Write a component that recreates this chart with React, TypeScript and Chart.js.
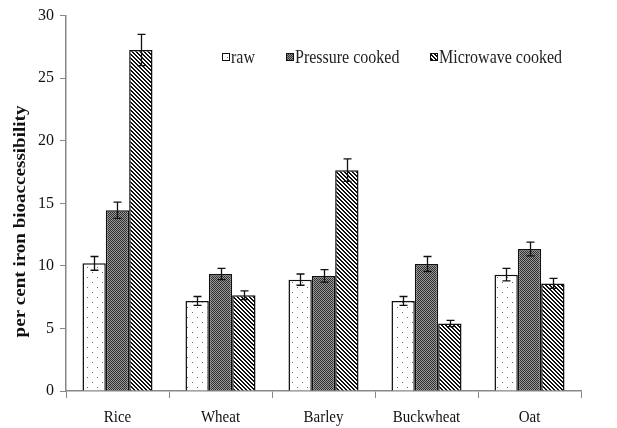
import React, { useEffect, useRef } from "react";
import { Chart, registerables } from "chart.js";

Chart.register(...registerables);

const categories = ["Rice", "Wheat", "Barley", "Buckwheat", "Oat"];
const seriesNames = ["raw", "Pressure cooked", "Microwave cooked"];
const rawValues = [10.2, 7.2, 8.9, 7.2, 9.3];
const pressureValues = [14.45, 9.35, 9.2, 10.15, 11.35];
const microwaveValues = [27.25, 7.65, 17.65, 5.4, 8.6];
const rawErrors = [0.55, 0.35, 0.45, 0.35, 0.5];
const pressureErrors = [0.65, 0.45, 0.5, 0.6, 0.55];
const microwaveErrors = [1.25, 0.35, 0.9, 0.25, 0.4];
const yTicks = [0, 5, 10, 15, 20, 25, 30];
const yTitle = "per cent iron bioaccessibility";

const SERIF = "'Liberation Serif', 'Times New Roman', serif";

function makePattern(kind: string): CanvasPattern | string {
  const c = document.createElement("canvas");
  const g = c.getContext("2d");
  if (!g) return "#fff";
  if (kind === "raw") {
    c.width = 10;
    c.height = 10;
    g.fillStyle = "#fff";
    g.fillRect(0, 0, 10, 10);
    g.fillStyle = "#666";
    g.fillRect(2, 2, 1, 1);
    g.fillRect(7, 7, 1, 1);
  } else if (kind === "pressure") {
    c.width = 2;
    c.height = 2;
    g.fillStyle = "#9a9a9a";
    g.fillRect(0, 0, 2, 2);
    g.fillStyle = "#2e2e2e";
    g.fillRect(0, 0, 1, 1);
    g.fillRect(1, 1, 1, 1);
  } else {
    c.width = 4;
    c.height = 4;
    g.fillStyle = "#fff";
    g.fillRect(0, 0, 4, 4);
    g.fillStyle = "#111";
    for (let i = 0; i < 4; i++) {
      g.fillRect(i, i, 2, 1);
      if (i === 3) g.fillRect(0, 3, 1, 1);
    }
  }
  const p = g.createPattern(c, "repeat");
  return p || "#fff";
}

export default function App() {
  const ref = useRef<HTMLCanvasElement | null>(null);

  useEffect(() => {
    if (!ref.current) return;
    const fills = [makePattern("raw"), makePattern("pressure"), makePattern("micro")];
    const values = [rawValues, pressureValues, microwaveValues];
    const errors = [rawErrors, pressureErrors, microwaveErrors];

    const errorBars = {
      id: "errorBars",
      afterDatasetsDraw(chart: any) {
        const ctx = chart.ctx;
        const y = chart.scales.y;
        ctx.save();
        ctx.strokeStyle = "#111";
        ctx.lineWidth = 1.3;
        chart.data.datasets.forEach((ds: any, di: number) => {
          const meta = chart.getDatasetMeta(di);
          meta.data.forEach((bar: any, i: number) => {
            const v = values[di][i];
            const e = errors[di][i];
            const x = Math.round(bar.x) + 0.5;
            const yt = y.getPixelForValue(v + e);
            const yb = y.getPixelForValue(v - e);
            ctx.beginPath();
            ctx.moveTo(x, yt);
            ctx.lineTo(x, yb);
            ctx.moveTo(x - 4, yt);
            ctx.lineTo(x + 4, yt);
            ctx.moveTo(x - 4, yb);
            ctx.lineTo(x + 4, yb);
            ctx.stroke();
          });
        });
        ctx.restore();
      },
    };

    const textPlugin = {
      id: "customText",
      afterDraw(chart: any) {
        const ctx = chart.ctx;
        const xs = chart.scales.x;
        ctx.save();
        // legend
        const items = [
          { x: 222, label: seriesNames[0] },
          { x: 286, label: seriesNames[1] },
          { x: 430, label: seriesNames[2] },
        ];
        ctx.font = "16px " + SERIF;
        ctx.textBaseline = "alphabetic";
        items.forEach((it, i) => {
          ctx.fillStyle = fills[i] as any;
          ctx.fillRect(it.x, 53, 8, 8);
          ctx.strokeStyle = "#111";
          ctx.lineWidth = 1;
          ctx.strokeRect(it.x + 0.5, 53.5, 7, 7);
          ctx.save();
          ctx.translate(it.x + 9, 63);
          ctx.scale(1, 1.2);
          ctx.fillStyle = "#222";
          ctx.textAlign = "left";
          ctx.fillText(it.label, 0, 0);
          ctx.restore();
        });
        // x labels
        ctx.font = "15px " + SERIF;
        ctx.fillStyle = "#111";
        ctx.textAlign = "center";
        categories.forEach((c, i) => {
          const px = xs.getPixelForValue(i);
          ctx.save();
          ctx.translate(px, 421.5);
          ctx.scale(1, 1.18);
          ctx.fillText(c, 0, 0);
          ctx.restore();
        });
        // y title
        ctx.save();
        ctx.font = "bold 17px " + SERIF;
        ctx.translate(21, 221.5);
        ctx.rotate(-Math.PI / 2);
        ctx.scale(1.12, 1);
        ctx.textAlign = "center";
        ctx.textBaseline = "middle";
        ctx.fillStyle = "#111";
        ctx.fillText(yTitle, 0, 0);
        ctx.restore();
        ctx.restore();
      },
    };

    const chart = new Chart(ref.current, {
      type: "bar",
      data: {
        labels: categories,
        datasets: seriesNames.map((name, i) => ({
          label: name,
          data: values[i],
          backgroundColor: fills[i] as any,
          borderColor: "#111",
          borderWidth: 1.5,
          borderSkipped: "bottom",
          categoryPercentage: 0.68,
          barPercentage: 1.0,
        })),
      },
      options: {
        animation: false,
        responsive: false,
        maintainAspectRatio: false,
        layout: { padding: { top: 14, right: 36, left: 0, bottom: 0 } },
        plugins: {
          legend: { display: false },
          tooltip: { enabled: false },
        },
        scales: {
          x: {
            offset: true,
            grid: {
              offset: true,
              drawOnChartArea: false,
              drawTicks: true,
              tickLength: 7,
              color: "#888",
            },
            border: { color: "#888", width: 1.5 },
            ticks: { display: false },
            afterFit(scale: any) {
              scale.height = 37;
            },
          },
          y: {
            min: 0,
            max: 30,
            afterBuildTicks(scale: any) {
              scale.ticks = yTicks.map((v) => ({ value: v }));
            },
            grid: {
              drawOnChartArea: false,
              drawTicks: true,
              tickLength: 6,
              color: "#888",
            },
            border: { color: "#888", width: 1.5 },
            ticks: {
              color: "#111",
              font: { family: SERIF, size: 16 },
              padding: 6,
            },
            afterFit(scale: any) {
              scale.width = 66;
            },
          },
        },
      },
      plugins: [errorBars, textPlugin],
    });
    return () => chart.destroy();
  }, []);

  return (
    <div style={{ position: "absolute", left: 0, top: 0, width: 617, height: 428, background: "#fff" }}>
      <canvas ref={ref} width={617} height={428} style={{ width: 617, height: 428 }} />
    </div>
  );
}
